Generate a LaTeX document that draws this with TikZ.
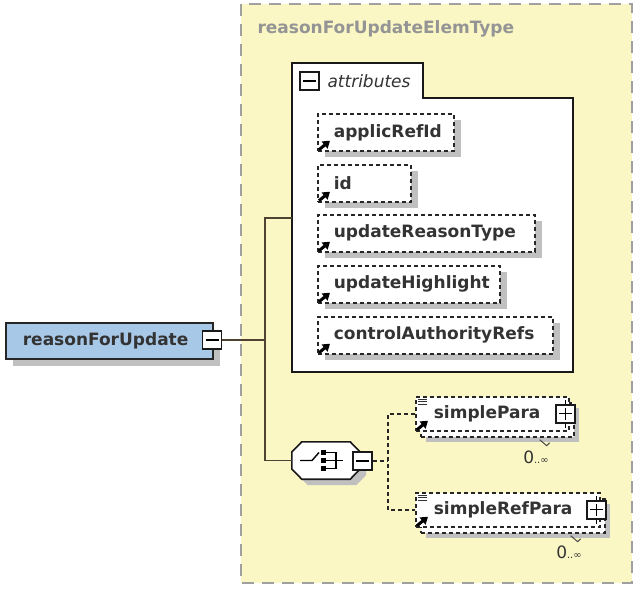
\documentclass[tikz,border=0pt]{standalone}
\usepackage{fontspec}
\setmainfont{DejaVu Sans}
\usetikzlibrary{shadows,arrows.meta}

\definecolor{typefill}{RGB}{250,247,196}
\definecolor{typeline}{RGB}{160,160,160}
\definecolor{elemfill}{RGB}{168,200,232}
\definecolor{inkgrey}{RGB}{51,51,51}
\definecolor{shadegrey}{RGB}{192,192,192}
\definecolor{wirecol}{RGB}{80,66,50}

\tikzset{
  xsdtext/.style={font=\fontsize{17}{20}\selectfont\bfseries, text=inkgrey},
  dashbox/.style={draw=black!85, dash pattern=on 4pt off 3pt, line width=1.7pt, fill=white},
  attrbox/.style={xsdtext, dashbox, inner xsep=16pt, inner ysep=0pt,
    minimum height=37pt, anchor=north west, align=left,
    drop shadow={shadow xshift=7pt, shadow yshift=-6pt, fill=shadegrey, opacity=1}},
  elembox/.style={xsdtext, dashbox, inner xsep=18pt, inner ysep=0pt,
    minimum height=34pt, anchor=north west, align=left,
    drop shadow={shadow xshift=10pt, shadow yshift=-11pt, fill=shadegrey, opacity=1},
    copy shadow={shadow xshift=5pt, shadow yshift=-6pt, draw=black!85, fill=white,
      dash pattern=on 4pt off 3pt, line width=1.7pt}},
  togglebox/.style={draw=black!90, line width=1.5pt, fill=white, inner sep=0pt,
    minimum width=19pt, minimum height=18pt},
  minusbox/.style={togglebox, path picture={
    \draw[black, line width=1.2pt] ([xshift=3pt]path picture bounding box.west)
      -- ([xshift=-3pt]path picture bounding box.east);}},
  plusbox/.style={togglebox, path picture={
    \draw[black, line width=1.2pt] ([xshift=3pt]path picture bounding box.west)
      -- ([xshift=-3pt]path picture bounding box.east)
      ([yshift=3pt]path picture bounding box.south)
      -- ([yshift=-3pt]path picture bounding box.north);}},
  conn/.style={wirecol, line width=1.3pt},
  dconn/.style={black!85, line width=1.5pt, dash pattern=on 4pt off 3pt},
  occ/.style={text=inkgrey, inner sep=0pt},
  refarrow/.style={black, line width=3pt, -{Triangle[length=7pt,width=9pt]}}
}

\begin{document}
\begin{tikzpicture}[x=1pt, y=-1pt]
  \useasboundingbox (0,0) rectangle (638,590);

  % complex type frame
  \draw[fill=typefill, draw=typeline, line width=1.8pt, dash pattern=on 12pt off 8pt]
    (241,4) rectangle (632,583);
  \node[font=\fontsize{17}{20}\selectfont\bfseries, text=black!42, anchor=west]
    (typename) at (254,29) {reasonForUpdateElemType};

  % attribute group with tab
  \draw[fill=white, draw=black!90, line width=1.6pt]
    (292,63) -- (423,63) -- (423,98) -- (573,98) -- (573,372) -- (292,372) -- cycle;
  \coordinate (attrs) at (292,218);
  \node[minusbox] (attrsminus) at (309.5,81) {};
  \node[font=\fontsize{17}{20}\selectfont\itshape, text=inkgrey, anchor=west]
    (attrlabel) at (324,81) {attributes};

  % attributes
  \node[attrbox, text width=104pt] (applicRefId) at (317,113) {applicRefId};
  \node[attrbox, text width=61pt] (id) at (317,164) {id};
  \node[attrbox, text width=185pt] (updateReasonType) at (317,214) {updateReasonType};
  \node[attrbox, text width=150pt] (updateHighlight) at (317,265) {updateHighlight};
  \node[attrbox, text width=203pt] (controlAuthorityRefs) at (317,316) {controlAuthorityRefs};

  % root element
  \node[xsdtext, draw=black!85, line width=1.7pt, fill=elemfill, inner xsep=17pt,
    inner ysep=0pt, minimum height=36pt, anchor=north west, align=left,
    text width=173pt,
    drop shadow={shadow xshift=7pt, shadow yshift=-7pt, fill=shadegrey, opacity=1}]
    (reasonForUpdate) at (5,322) {reasonForUpdate};
  \node[minusbox] (reasonminus) at (212,340) {};

  % sequence compositor
  \node[minimum width=68pt, minimum height=37pt, inner sep=0pt] (seq) at (326,460.5) {};
  \draw[draw=black!90, line width=1.6pt, fill=white,
    preaction={fill=shadegrey, transform canvas={shift={(6pt,-6pt)}}}]
    ([yshift=8.5pt]seq.west) -- ([xshift=10pt]seq.north west)
    -- ([xshift=-10pt]seq.north east) -- ([yshift=8.5pt]seq.east)
    -- ([yshift=-8.5pt]seq.east) -- ([xshift=-10pt]seq.south east)
    -- ([xshift=10pt]seq.south west) -- ([yshift=-8.5pt]seq.west) -- cycle;
  \draw[black, line width=1.4pt] ([xshift=-26pt]seq.center) -- ++(12,0) -- ++(7,-8);
  \foreach \dy in {-8,0,8}
    \fill[black] ([shift={(-5,\dy-2.5)}]seq.center) rectangle ++(5,5);
  \draw[black, line width=1.3pt]
    ([shift={(0,-8)}]seq.center) -- ++(10,0) -- ++(0,16) -- ++(-10,0)
    ([shift={(0,0)}]seq.center) -- ++(17,0);
  \node[minusbox] (seqminus) at (362.5,461) {};

  % elements of the sequence
  \node[elembox, text width=117pt] (simplePara) at (415,396) {simplePara};
  \node[elembox, text width=148pt] (simpleRefPara) at (415,492) {simpleRefPara};
  \foreach \n in {simplePara,simpleRefPara} {
    \node[plusbox] (\n plus) at ([xshift=-4pt]\n.east) {};
    \draw[black, line width=1.2pt] (\n plus.north) -- ++(0,-4) (\n plus.south) -- ++(0,4);
    \foreach \dy in {3,5.5,8}
      \draw[inkgrey, line width=1pt] ([shift={(3,\dy)}]\n.north west) -- ++(9,0);
  }
  \node[occ] (simpleParaOcc) at (536,457)
    {\fontsize{17}{17}\selectfont 0\fontsize{10}{10}\selectfont..∞};
  \node[occ] (simpleRefParaOcc) at (569,552)
    {\fontsize{17}{17}\selectfont 0\fontsize{10}{10}\selectfont..∞};
  \draw[black!70, line width=1pt] ([shift={(-30,8)}]simplePara.south east)
    -- ++(7,6) -- ++(3,-3);
  \draw[black!70, line width=1pt] ([shift={(-30,8)}]simpleRefPara.south east)
    -- ++(7,6) -- ++(3,-3);

  % reference arrows
  \foreach \n in {applicRefId,id,updateReasonType,updateHighlight,controlAuthorityRefs,simplePara,simpleRefPara}
    \draw[refarrow] ([shift={(2,-2)}]\n.south west) -- ++(11,-9);

  % connectors
  \coordinate (busTop) at (265,218);
  \coordinate (busBot) at (265,460.5);
  \draw[conn] (reasonminus.east) -- (reasonminus.east -| busTop);
  \draw[conn] (attrs) -- (busTop) -- (busBot) -- (seq.west);
  \coordinate (seqbus) at (388,461);
  \draw[dconn] (seqminus.east) -- (seqbus);
  \draw[dconn] (simplePara.west) -| (seqbus) |- (simpleRefPara.west);
\end{tikzpicture}
\end{document}
